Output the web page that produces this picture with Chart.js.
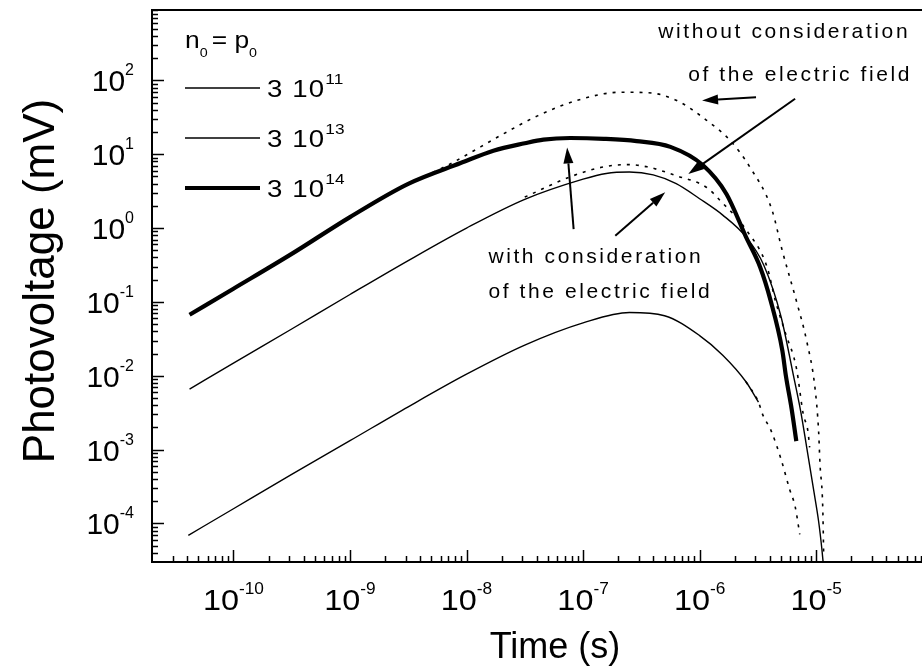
<!DOCTYPE html>
<html><head><meta charset="utf-8">
<style>html,body{margin:0;padding:0;background:#fff;overflow:hidden}#wrap{width:922px;height:670px;position:relative}</style>
<script src="https://cdn.jsdelivr.net/npm/chart.js@4/dist/chart.umd.min.js"></script>
</head><body><div id="wrap"><canvas id="c" width="922" height="670"></canvas></div>
<script>
// ---- data (time in s, photovoltage in mV) ----
const t11 = [4.1e-11,1e-10,3.16e-10,1e-9,3.16e-9,1e-8,3.16e-8,1e-7,2.5e-7,5e-7,1e-6,1.58e-6,2.5e-6,3.2e-6];
const v11 = [6.9e-5,1.58e-4,4.6e-4,1.32e-3,3.8e-3,1.05e-2,2.6e-2,5.2e-2,7.2e-2,6.5e-2,3.5e-2,1.9e-2,8.3e-3,4.4e-3];
const t11n = [2.5e-6,3.2e-6,3.47e-6,4.12e-6,5.0e-6,5.92e-6,6.6e-6,7.24e-6];
const v11n = [8.3e-3,4.4e-3,3.0e-3,1.78e-3,7.4e-4,2.9e-4,1.7e-4,7.1e-5];
const t13 = [4.2e-11,1e-10,3.16e-10,1e-9,3.16e-9,1e-8,3.16e-8,1e-7,1.58e-7,2.5e-7,4.0e-7,6.3e-7,1e-6,1.58e-6,2.5e-6,3.55e-6,5.0e-6,6.3e-6,7.4e-6,8.3e-6,9.55e-6,1.05e-5,1.12e-5,1.16e-5];
const v13 = [6.6e-3,1.48e-2,4.3e-2,0.126,0.363,1.0,2.45,4.6,5.5,5.75,5.25,4.0,2.5,1.5,0.76,0.316,0.063,0.0112,3.2e-3,1.07e-3,2.75e-4,1.07e-4,4.5e-5,2.5e-5];
const t13n = [3.16e-8,7.9e-8,1.51e-7,2.4e-7,3.55e-7,6.3e-7,1.15e-6,1.51e-6,2.5e-6,3.8e-6,4.47e-6,5.5e-6,6.76e-6,7.76e-6,8.5e-6,8.8e-6];
const v13n = [2.63,5.0,6.76,7.24,6.76,5.13,3.55,2.34,0.955,0.295,0.104,0.0363,0.0129,3.0e-3,1.78e-3,1.07e-3];
const t14 = [4.2e-11,1e-10,3.16e-10,1e-9,3.16e-9,8.9e-9,1.7e-8,3.16e-8,4.57e-8,7.76e-8,1.51e-7,2.88e-7,5.62e-7,1.07e-6,1.7e-6,2.5e-6,3.31e-6,4.07e-6,5.13e-6,5.5e-6,6.17e-6,6.76e-6];
const v14 = [0.067,0.151,0.447,1.41,3.98,7.6,11.2,14.1,15.8,16.6,16.2,15.1,12.6,7.1,2.9,0.76,0.295,0.104,0.0219,0.01,3.5e-3,1.3e-3];
const t14n = [3.16e-9,7.24e-9,2.09e-8,4.07e-8,8.9e-8,2.09e-7,3.55e-7,6.3e-7,1.15e-6,1.82e-6,2.69e-6,4.17e-6,5.13e-6,6.76e-6,8.3e-6,9.77e-6,1.05e-5,1.08e-5,1.14e-5,1.16e-5];
const v14n = [3.98,7.4,19.05,33.1,53.7,69.2,68.4,54,28.8,15.5,6.76,1.78,0.49,0.104,0.0295,6.9e-3,1.78e-3,6.3e-4,1.62e-4,4.0e-5];

const xDecades = [-10,-9,-8,-7,-6,-5];
const yDecades = [-4,-3,-2,-1,0,1,2];
const legendBase = ['3 10','3 10','3 10'];
const legendExp = ['11','13','14'];
const legendWidths = [1.4,1.4,4.2];

const arrows = [
  {from:[3.05e-6,59], to:[1.05e-6,53.6]},
  {from:[6.6e-6,56.5], to:[8.0e-7,5.4]},
  {from:[8.3e-8,0.97], to:[7.3e-8,12.4]},
  {from:[1.89e-7,0.79], to:[5.07e-7,3.05]}
];
const notes = [
  {text:'without consideration', at:[4.42e-7,452]},
  {text:'of the electric field', at:[7.98e-7,117]},
  {text:'with consideration', at:[1.54e-8,0.401]},
  {text:'of the electric field', at:[1.54e-8,0.134]}
];

const FONT = '"Liberation Sans", Arial, Helvetica, sans-serif';
function pts(t,v){return t.map((x,i)=>({x:x,y:v[i]}));}

function drawRich(ctx, parts, x, y, align, sx){
  sx = sx||1;
  let w = 0;
  const ws = parts.map(p=>{ctx.font=p.size+'px '+FONT; ctx.letterSpacing=(p.ls||0)+'px'; const m=ctx.measureText(p.text).width*sx; w+=m+(p.gap||0); return m;});
  let cx = align==='center'? x-w/2 : (align==='right'? x-w : x);
  parts.forEach((p,i)=>{
    ctx.save();
    ctx.font=p.size+'px '+FONT; ctx.letterSpacing=(p.ls||0)+'px';
    ctx.textAlign='left'; ctx.textBaseline='alphabetic';
    ctx.translate(cx, y+(p.dy||0)); ctx.scale(sx,1);
    ctx.fillStyle='#000'; ctx.fillText(p.text,0,0);
    ctx.restore();
    cx += ws[i]+(p.gap||0);
  });
}

function arrow(ctx,x1,y1,x2,y2){
  const ang=Math.atan2(y2-y1,x2-x1), L=16, H=5;
  const bx=x2-L*Math.cos(ang), by=y2-L*Math.sin(ang);
  ctx.beginPath(); ctx.moveTo(x1,y1); ctx.lineTo(bx,by); ctx.lineWidth=2; ctx.strokeStyle='#000'; ctx.stroke();
  ctx.beginPath(); ctx.moveTo(x2,y2);
  ctx.lineTo(bx+H*Math.sin(ang), by-H*Math.cos(ang));
  ctx.lineTo(bx-H*Math.sin(ang), by+H*Math.cos(ang));
  ctx.closePath(); ctx.fillStyle='#000'; ctx.fill();
}

const overlay = {
  id:'overlay',
  afterDraw(chart){
    const ctx=chart.ctx, a=chart.chartArea, xs=chart.scales.x, ys=chart.scales.y;
    ctx.save();
    ctx.strokeStyle='#000'; ctx.lineWidth=2;
    ctx.beginPath(); ctx.moveTo(a.left, a.top); ctx.lineTo(a.right, a.top); ctx.stroke();
    ctx.lineWidth=1.5;
    for(let d=-12; d<=-3; d++){
      for(let m=1;m<=9;m++){
        const v=m*Math.pow(10,d);
        if(v<xs.min||v>xs.max) continue;
        const px=Math.round(xs.getPixelForValue(v))+0.5;
        if(px<a.left+2) continue;
        const len=m===1?12:6;
        ctx.beginPath(); ctx.moveTo(px,a.bottom); ctx.lineTo(px,a.bottom-len); ctx.stroke();
      }
    }
    for(let d=-6; d<=3; d++){
      for(let m=1;m<=9;m++){
        const v=m*Math.pow(10,d);
        if(v<ys.min||v>ys.max) continue;
        const py=Math.round(ys.getPixelForValue(v))+0.5;
        if(py>a.bottom-2) continue;
        const len=m===1?12:6;
        ctx.beginPath(); ctx.moveTo(a.left,py); ctx.lineTo(a.left+len,py); ctx.stroke();
      }
    }
    xDecades.forEach(e=>{
      const px=xs.getPixelForValue(Math.pow(10,e));
      drawRich(ctx,[{text:'10',size:30},{text:String(e),size:16,dy:-16}],px,a.bottom+48,'center',1.08);
    });
    yDecades.forEach(e=>{
      const py=ys.getPixelForValue(Math.pow(10,e));
      drawRich(ctx,[{text:'10',size:30},{text:String(e),size:16,dy:-16}],134,py+11,'right',1.0);
    });
    drawRich(ctx,[{text:'Time (s)',size:36}],555,a.bottom+96,'center',1.0);
    ctx.save(); ctx.translate(54, 281); ctx.rotate(-Math.PI/2);
    drawRich(ctx,[{text:'Photovoltage (mV)',size:44}],0,0,'center',1.0);
    ctx.restore();
    drawRich(ctx,[{text:'n',size:24},{text:'0',size:13,dy:9,gap:4},{text:'= ',size:24},{text:'p',size:24},{text:'0',size:13,dy:9}],a.left+33,a.top+38,'left',1.1);
    legendBase.forEach((s,i)=>{
      const y=a.top+78+i*50;
      ctx.beginPath(); ctx.moveTo(a.left+33,y); ctx.lineTo(a.left+108,y); ctx.lineWidth=legendWidths[i]; ctx.stroke();
      drawRich(ctx,[{text:s,size:24,ls:1},{text:legendExp[i],size:15,dy:-13}],a.left+115,y+9,'left',1.15);
    });
    notes.forEach(n=>{
      const px=xs.getPixelForValue(n.at[0]), py=ys.getPixelForValue(n.at[1]);
      ctx.save(); ctx.font='21px '+FONT; ctx.letterSpacing='2.6px'; ctx.textBaseline='middle'; ctx.textAlign='left'; ctx.fillStyle='#000';
      ctx.fillText(n.text,px,py); ctx.restore();
    });
    arrows.forEach(r=>{
      arrow(ctx,xs.getPixelForValue(r.from[0]),ys.getPixelForValue(r.from[1]),xs.getPixelForValue(r.to[0]),ys.getPixelForValue(r.to[1]));
    });
    ctx.restore();
  }
};

const solid=(data,w)=>({data:data,borderColor:'#000',borderWidth:w,pointRadius:0,showLine:true,fill:false,cubicInterpolationMode:'monotone'});
const dotted=(data)=>({data:data,borderColor:'#000',borderWidth:1.6,borderDash:[3,6],pointRadius:0,showLine:true,fill:false,cubicInterpolationMode:'monotone'});

new Chart(document.getElementById('c'),{
  type:'scatter',
  data:{datasets:[
    solid(pts(t11,v11),1.4),
    dotted(pts(t11n,v11n)),
    solid(pts(t13,v13),1.4),
    dotted(pts(t13n,v13n)),
    solid(pts(t14,v14),4.2),
    dotted(pts(t14n,v14n))
  ]},
  options:{
    responsive:false, animation:false, devicePixelRatio:1,
    layout:{padding:{top:10,right:0,left:0,bottom:0}},
    plugins:{legend:{display:false},tooltip:{enabled:false}},
    scales:{
      x:{type:'logarithmic',min:2e-11,max:8.1e-5,grid:{display:false},ticks:{display:false},border:{display:true,color:'#000',width:2},
         afterFit(s){s.height=108;}},
      y:{type:'logarithmic',min:3e-5,max:900,grid:{display:false},ticks:{display:false},border:{display:true,color:'#000',width:2},
         afterFit(s){s.width=152;}}
    }
  },
  plugins:[overlay]
});
</script>
</body></html>
